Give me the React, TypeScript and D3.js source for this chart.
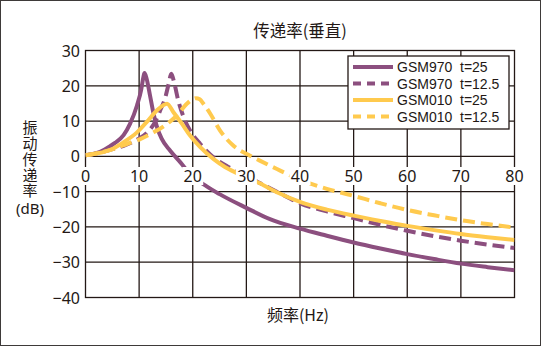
import React from "react";
import * as d3 from "d3";

// ---- data ----
const xTicks = [0, 10, 20, 30, 40, 50, 60, 70, 80];
const yTicks = [30, 20, 10, 0, -10, -20, -30, -40];

const seriesNames = ["GSM970", "GSM970", "GSM010", "GSM010"];
const seriesThickness = ["t=25", "t=12.5", "t=25", "t=12.5"];

const gsm970T25Freq = [0, 2, 3.5, 4.6, 5.5, 7.1, 8.3, 9.6, 10.4, 10.8, 11.0, 11.4, 12.0, 12.7, 13.4, 14.2, 15.8, 17.7, 19.5, 22.6, 25, 30, 34.4, 40, 45, 50, 55, 60, 65, 70, 75, 80];
const gsm970T25Db = [0.3, 0.9, 1.9, 2.9, 3.8, 6.0, 9.2, 14.4, 19.0, 22.5, 23.6, 22.0, 17.5, 12.0, 8.0, 5.0, 1.6, -1.7, -5.0, -8.5, -10.7, -14.6, -17.8, -20.5, -22.5, -24.4, -26.1, -27.7, -29.1, -30.4, -31.4, -32.3];

const gsm970T125Freq = [0, 2.5, 5.2, 7.1, 9.6, 11.4, 13.0, 13.9, 14.9, 15.5, 16.0, 16.6, 17.3, 18.3, 19.5, 21.4, 23.9, 26.4, 29.5, 32.3, 36, 40, 45, 50, 55, 60, 65, 70, 75, 80];
const gsm970T125Db = [0.3, 1.0, 2.1, 3.0, 4.7, 6.6, 9.8, 12.9, 16.8, 20.5, 23.4, 20.5, 15.8, 11.1, 7.3, 3.5, -0.3, -2.8, -5.2, -7.4, -10.3, -13.3, -15.6, -17.5, -19.4, -21.1, -22.6, -23.9, -25.0, -26.0];

const gsm010T25Freq = [0, 2, 4.6, 7.1, 9.6, 11.4, 13.3, 14.5, 15.2, 16.4, 18.0, 19.5, 21.4, 23.9, 26.0, 28.3, 32.5, 36, 40, 45, 50, 55, 60, 65, 70, 75, 80];
const gsm010T25Db = [0.3, 0.8, 1.8, 4.0, 6.8, 9.7, 13.0, 14.5, 14.9, 12.5, 9.2, 5.9, 2.6, -0.8, -3.0, -4.8, -7.6, -10.4, -12.9, -15.1, -16.8, -18.3, -19.7, -20.9, -22.0, -22.9, -23.7];

const gsm010T125Freq = [0, 2.5, 5.2, 7.7, 10.2, 12.7, 15.2, 17.0, 18.9, 20.0, 20.6, 21.3, 22.0, 23.3, 25.1, 27.6, 30.7, 32.5, 35.7, 40, 45, 50, 55, 60, 65, 70, 75, 80];
const gsm010T125Db = [0.3, 1.0, 2.1, 3.5, 4.9, 6.8, 9.2, 11.5, 14.9, 16.2, 16.5, 16.2, 14.9, 12.0, 7.3, 3.0, 0.2, -1.2, -3.6, -6.6, -9.2, -11.2, -13.3, -15.2, -16.7, -18.1, -19.2, -20.2];

const PURPLE = "#8c4f7f";
const YELLOW = "#ffca4e";
const INK = "#231815";

const series = [
  { f: gsm970T25Freq, v: gsm970T25Db, color: PURPLE, dash: null },
  { f: gsm970T125Freq, v: gsm970T125Db, color: PURPLE, dash: "12,6" },
  { f: gsm010T25Freq, v: gsm010T25Db, color: YELLOW, dash: null },
  { f: gsm010T125Freq, v: gsm010T125Db, color: YELLOW, dash: "12,6" },
];

const W = 541;
const H = 346;
const L = 85.5, R = 514.5, T = 50.5, B = 297.5;

const FONT = "'Noto Sans', 'Noto Sans CJK SC', sans-serif";
const CJK = "'Noto Sans CJK SC', 'Noto Sans', sans-serif";
const LEGEND_FONT = "'Liberation Sans', Arial, sans-serif";

export default function App() {
  const x = d3.scaleLinear().domain([0, 80]).range([L, R]);
  const y = d3.scaleLinear().domain([-40, 30]).range([B, T]);
  const line = d3
    .line<[number, number]>()
    .x((d) => x(d[0]))
    .y((d) => y(d[1]))
    .curve(d3.curveMonotoneX);

  const legendRows = [67, 83.5, 100, 116.5];
  const xLabelY = 176;

  return (
    <svg
      width={W}
      height={H}
      style={{ position: "absolute", left: 0, top: 0 }}
      fontFamily={FONT}
    >
      <defs>
        <clipPath id="plotclip">
          <rect x={L} y={T} width={R - L} height={B - T} />
        </clipPath>
      </defs>
      <rect x={0.5} y={0.5} width={W - 1} height={H - 1} fill="#fff" stroke="#3e3a39" strokeWidth={1} />

      {/* title */}
      <text x={300} y={37} textAnchor="middle" fontSize={16.5} fontFamily={CJK} fill={INK}>
        传递率(垂直)
      </text>

      {/* grid */}
      {xTicks.slice(1, -1).map((t) => (
        <line key={"gx" + t} x1={x(t)} x2={x(t)} y1={T} y2={B} stroke={INK} strokeWidth={1.3} />
      ))}
      {yTicks.slice(1, -1).map((t) => (
        <line key={"gy" + t} x1={L} x2={R} y1={y(t)} y2={y(t)} stroke={INK} strokeWidth={1.3} />
      ))}
      <rect x={L} y={T} width={R - L} height={B - T} fill="none" stroke={INK} strokeWidth={1.3} />

      {/* curves */}
      <g clipPath="url(#plotclip)">
        {series.map((s, i) => (
          <path
            key={i}
            d={line(s.f.map((f, j) => [f, s.v[j]] as [number, number])) || ""}
            fill="none"
            stroke={s.color}
            strokeWidth={4}
            strokeDasharray={s.dash || undefined}
            strokeLinejoin="round"
          />
        ))}
      </g>

      {/* x tick labels on the zero line */}
      {xTicks.map((t) => {
        const w = t === 0 ? 11 : 21;
        return (
          <g key={"xl" + t}>
            <rect x={x(t) - w / 2} y={xLabelY - 9} width={w} height={18} fill="#fff" />
            <text x={x(t)} y={xLabelY + 6} textAnchor="middle" fontSize={16} fill={INK}>
              {t}
            </text>
          </g>
        );
      })}

      {/* y tick labels */}
      {yTicks.map((t) => (
        <text key={"yl" + t} x={80} y={y(t) + 6} textAnchor="end" fontSize={16} fill={INK}>
          {t < 0 ? "\u2212" + Math.abs(t) : String(t)}
        </text>
      ))}

      {/* y axis title (vertical) */}
      <text
        x={30}
        y={120}
        fontSize={15}
        fontFamily={CJK}
        fill={INK}
        letterSpacing={0.8}
        style={{ writingMode: "vertical-rl", textOrientation: "upright" } as any}
      >
        振动传递率
      </text>
      <text x={30} y={214} textAnchor="middle" fontSize={15} fill={INK}>
        (dB)
      </text>

      {/* x axis title */}
      <text x={298} y={321} textAnchor="middle" fontSize={16} fontFamily={CJK} fill={INK}>
        频率(Hz)
      </text>

      {/* legend */}
      <rect x={348} y={56} width={161} height={73} fill="#fff" stroke={INK} strokeWidth={1.3} />
      {series.map((s, i) => (
        <g key={"lg" + i}>
          <line
            x1={353}
            x2={393}
            y1={legendRows[i]}
            y2={legendRows[i]}
            stroke={s.color}
            strokeWidth={4}
            strokeDasharray={s.dash ? "8,6" : undefined}
          />
          <text x={397} y={legendRows[i] + 5} fontSize={14} fontFamily={LEGEND_FONT} fill={INK}>
            {seriesNames[i]}
          </text>
          <text x={460} y={legendRows[i] + 5} fontSize={14} fontFamily={LEGEND_FONT} fill={INK}>
            {seriesThickness[i]}
          </text>
        </g>
      ))}
    </svg>
  );
}
